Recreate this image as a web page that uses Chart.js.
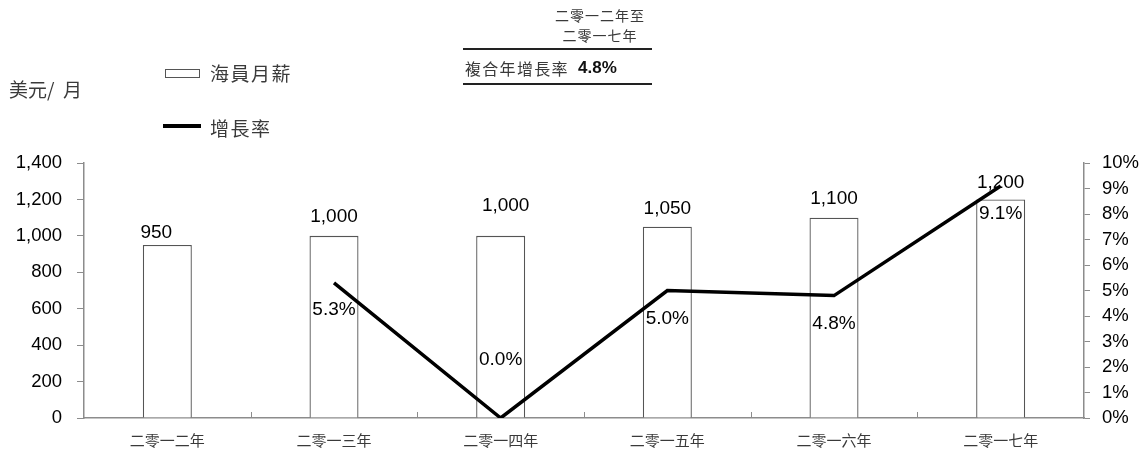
<!DOCTYPE html>
<html>
<head>
<meta charset="utf-8">
<script src="https://cdn.jsdelivr.net/npm/chart.js@4/dist/chart.umd.min.js"></script>
<style>
  html, body { margin: 0; padding: 0; background: #fff; }
  #wrap { position: relative; width: 1145px; height: 454px; overflow: hidden; }
  #c { position: absolute; left: 0; top: 0; }
  .t { position: absolute; white-space: nowrap; font-family: "Noto Sans CJK TC", "Noto Sans CJK SC", sans-serif; color: #3a3a3a; }
  .rule { position: absolute; background: #222; }
</style>
</head>
<body>
<div id="wrap">
  <canvas id="c" width="1145" height="454"></canvas>

  <div class="t" style="left:9px; top:78px; font-size:19px; line-height:22px;">美元/&nbsp; 月</div>

  <div style="position:absolute; left:165px; top:69px; width:33px; height:7px; border:1px solid #555; background:#fff;"></div>
  <div class="t" style="left:210px; top:62px; font-size:19px; line-height:22px; letter-spacing:1.5px;">海員月薪</div>
  <div style="position:absolute; left:163px; top:124px; width:38px; height:4px; background:#000;"></div>
  <div class="t" style="left:210px; top:117px; font-size:19px; line-height:22px; letter-spacing:1.5px;">增長率</div>

  <div class="t" style="left:550px; top:5px; width:100px; text-align:center; font-size:14px; line-height:20px; letter-spacing:1px;">二零一二年至<br>二零一七年</div>
  <div class="rule" style="left:463px; top:48px; width:189px; height:2px;"></div>
  <div class="t" style="left:465px; top:58px; font-size:16px; line-height:20px; letter-spacing:1.3px;">複合年增長率</div>
  <div class="t" style="left:578px; top:58px; font-family:'Liberation Sans', Arial, sans-serif; font-weight:bold; font-size:17px; line-height:20px; color:#111;">4.8%</div>
  <div class="rule" style="left:463px; top:83px; width:189px; height:2px;"></div>
</div>

<script>
// Years shown on the category axis
const years = ['二零一二年', '二零一三年', '二零一四年', '二零一五年', '二零一六年', '二零一七年'];
// Seafarer monthly wage, USD per month
const wages = [950, 1000, 1000, 1050, 1100, 1200];
// Year-on-year growth rate, percent (no value for the first year)
const growth = [null, 5.3, 0.0, 5.0, 4.8, 9.1];
// Axis tick values
const wageTicks = [0, 200, 400, 600, 800, 1000, 1200, 1400];
const growthTicks = [0, 1, 2, 3, 4, 5, 6, 7, 8, 9, 10];

// Label placement tweaks (pixels): wage labels relative to bar top, growth labels relative to the point
const wageLabelShift = [[-11, -12], [0, -19], [5, -30], [0, -18], [0, -19], [0, -17]];
const growthLabelShift = [null, 27, -58, 28, 28, 28];

const axisGrey = '#8c8c8c';
const numFont = "'Liberation Sans', Arial, sans-serif";

const valueLabels = {
  id: 'valueLabels',
  afterDatasetsDraw(chart) {
    const ctx = chart.ctx;
    ctx.save();
    ctx.textAlign = 'center';
    ctx.textBaseline = 'middle';
    ctx.fillStyle = '#000';
    ctx.font = '19px ' + numFont;
    const bars = chart.getDatasetMeta(0).data;
    bars.forEach((bar, i) => {
      const s = wageLabelShift[i];
      ctx.fillText(wages[i].toLocaleString('en-US'), bar.x + s[0], bar.y + s[1]);
    });
    const pts = chart.getDatasetMeta(1).data;
    pts.forEach((p, i) => {
      if (growth[i] === null) return;
      ctx.fillText(growth[i].toFixed(1) + '%', p.x, p.y + growthLabelShift[i]);
    });
    ctx.restore();
  }
};

// Small upward tick marks between categories on the x axis
const innerTicks = {
  id: 'innerTicks',
  afterDraw(chart) {
    const xs = chart.scales.x;
    const bottom = chart.chartArea.bottom;
    const ctx = chart.ctx;
    ctx.save();
    ctx.strokeStyle = axisGrey;
    ctx.lineWidth = 1;
    for (let i = 1; i < years.length; i++) {
      const x = Math.round((xs.getPixelForValue(i - 1) + xs.getPixelForValue(i)) / 2) + 0.5;
      ctx.beginPath();
      ctx.moveTo(x, bottom);
      ctx.lineTo(x, bottom - 6);
      ctx.stroke();
    }
    ctx.restore();
  }
};

new Chart(document.getElementById('c'), {
  data: {
    labels: years,
    datasets: [
      {
        type: 'bar',
        label: '海員月薪',
        data: wages,
        yAxisID: 'y',
        backgroundColor: '#ffffff',
        borderColor: '#555555',
        borderWidth: 1.3,
        barPercentage: 0.294,
        categoryPercentage: 1,
        order: 2
      },
      {
        type: 'line',
        label: '增長率',
        data: growth,
        yAxisID: 'y1',
        borderColor: '#000000',
        borderWidth: 3.5,
        pointRadius: 0,
        tension: 0,
        fill: false,
        order: 1
      }
    ]
  },
  options: {
    responsive: false,
    animation: false,
    layout: { padding: { top: 163, left: 0, right: 0, bottom: 0 } },
    plugins: { legend: { display: false }, tooltip: { enabled: false } },
    scales: {
      x: {
        type: 'category',
        grid: { display: false, drawTicks: false },
        border: { display: true, color: axisGrey, width: 1.5 },
        ticks: {
          color: '#3a3a3a',
          padding: 13,
          maxRotation: 0,
          font: { family: "'Noto Sans CJK TC', 'Noto Sans CJK SC', sans-serif", size: 15 }
        },
        afterFit(s) { s.height = 36; }
      },
      y: {
        position: 'left',
        min: 0,
        max: 1400,
        afterBuildTicks(s) { s.ticks = wageTicks.map(v => ({ value: v })); },
        grid: { drawOnChartArea: false, drawTicks: true, tickLength: 7, color: axisGrey, lineWidth: 1 },
        border: { display: true, color: axisGrey, width: 1.5 },
        ticks: {
          color: '#000',
          padding: 15,
          font: { family: numFont, size: 18.5 },
          callback: v => v.toLocaleString('en-US')
        },
        afterFit(s) { s.width = 84; }
      },
      y1: {
        position: 'right',
        min: 0,
        max: 10,
        afterBuildTicks(s) { s.ticks = growthTicks.map(v => ({ value: v })); },
        grid: { drawOnChartArea: false, drawTicks: true, tickLength: 6, color: axisGrey, lineWidth: 1 },
        border: { display: true, color: axisGrey, width: 1.5 },
        ticks: {
          color: '#000',
          padding: 12,
          font: { family: numFont, size: 18.5 },
          callback: v => v + '%'
        },
        afterFit(s) { s.width = 61; }
      }
    }
  },
  plugins: [valueLabels, innerTicks]
});
</script>
</body>
</html>
